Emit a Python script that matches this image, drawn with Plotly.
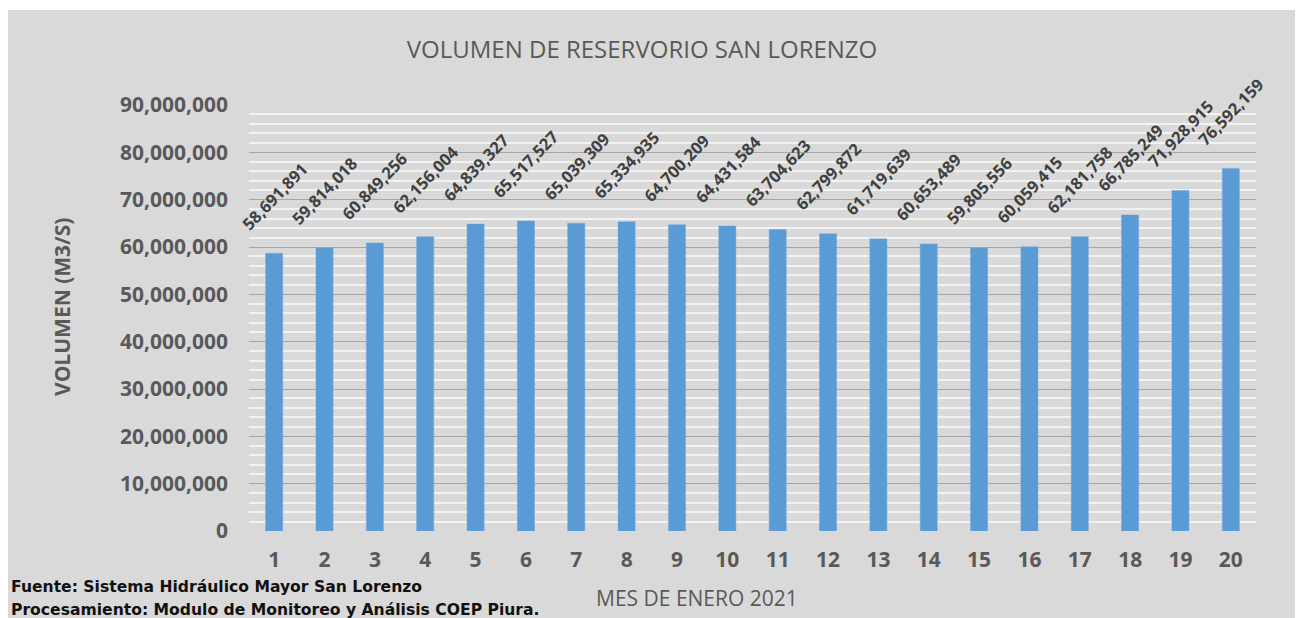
import plotly.graph_objects as go

# --------------------------------------------------
# Daten
# --------------------------------------------------
dias = [str(d) for d in range(1, 21)]
volumen = [
    58691891, 59814018, 60849256, 62156004, 64839327,
    65517527, 65039309, 65334935, 64700209, 64431584,
    63704623, 62799872, 61719639, 60653489, 59805556,
    60059415, 62181758, 66785249, 71928915, 76592159,
]
titulo = "VOLUMEN DE RESERVORIO SAN LORENZO"
titulo_y = "VOLUMEN (M3/S)"
titulo_x = "MES DE ENERO 2021"
fuente = "Fuente: Sistema Hidráulico Mayor San Lorenzo"
procesamiento = "Procesamiento: Modulo de Monitoreo y Análisis COEP Piura."

# --------------------------------------------------
# Geometrie (Pixel der Seite; Body hat 8px Rand)
# --------------------------------------------------
OFF = 8
W, H = 1303, 618 - OFF
X0, X1, Y0, Y1 = 249, 1256, 105, 531          # Plotbereich auf der Seite
L, R, T, B = X0 - OFF, W + OFF - X1, Y0 - OFF, 618 - Y1
PW, PH = X1 - X0, Y1 - Y0


def px(x):
    return (x - X0) / PW


def py(y):
    return (Y1 - y) / PH


GRIS = "#595959"
FONT = "Open Sans"

fig = go.Figure()

fig.add_trace(go.Bar(
    x=dias,
    y=volumen,
    marker=dict(color="#5b9bd5", line=dict(color="#6fa8dc", width=0.5)),
    hoverinfo="x+y",
))

# Datenbeschriftungen, schraeg ueber den Balken
annotations = []
for i, v in enumerate(volumen):
    annotations.append(dict(
        x=i, y=v, xref="x", yref="y",
        text=f"{v:,}",
        showarrow=False,
        textangle=-46,
        xanchor="center", yanchor="middle",
        yshift=57,
        font=dict(family=FONT, size=16.5, color="#404040", weight="bold"),
    ))

annotations += [
    dict(x=px(62), y=py(307), xref="paper", yref="paper", text=titulo_y,
         showarrow=False, textangle=-90, xanchor="center", yanchor="middle",
         font=dict(family=FONT, size=21, color=GRIS, weight="bold")),
    dict(x=px(697), y=py(598), xref="paper", yref="paper", text=titulo_x,
         showarrow=False, xanchor="center", yanchor="middle",
         font=dict(family=FONT, size=21, color=GRIS)),
    dict(x=px(9), y=py(587), xref="paper", yref="paper", text=fuente,
         showarrow=False, xanchor="left", yanchor="middle",
         font=dict(family="DejaVu Sans", size=15.6, color="#111111", weight="bold")),
    dict(x=px(9), y=py(610), xref="paper", yref="paper", text=procesamiento,
         showarrow=False, xanchor="left", yanchor="middle",
         font=dict(family="DejaVu Sans", size=15.6, color="#111111", weight="bold")),
]

shapes = [
    # schmaler weisser Streifen oben
    dict(type="rect", xref="paper", yref="paper", layer="below",
         x0=px(0), x1=px(1320), y0=py(0), y1=py(10),
         fillcolor="white", line=dict(width=0)),
]

fig.update_layout(
    width=W, height=H,
    margin=dict(l=L, r=R, t=T, b=B, pad=0),
    paper_bgcolor="#d9d9d9",
    plot_bgcolor="#d9d9d9",
    bargap=0.66,
    showlegend=False,
    title=dict(text=titulo, x=(642 - OFF) / W, xanchor="center", xref="container",
               y=1 - (50 - OFF) / H, yanchor="middle", yref="container",
               font=dict(family=FONT, size=24, color=GRIS)),
    annotations=annotations,
    shapes=shapes,
)

fig.update_yaxes(
    range=[0, 90e6], dtick=10e6, tickformat=",",
    showgrid=True, gridcolor="#a6a6a6", gridwidth=1,
    minor=dict(dtick=2e6, showgrid=True, gridcolor="#f2f2f2", gridwidth=2),
    zeroline=False, showline=False, ticks="",
    ticklabelstandoff=20,
    tickfont=dict(family=FONT, size=21, color=GRIS, weight="bold"),
)
fig.update_xaxes(
    type="category", range=[-0.5, len(dias) - 0.5], autorange=False,
    showgrid=False, showline=False, ticks="",
    ticklabelstandoff=14,
    tickfont=dict(family=FONT, size=21, color=GRIS, weight="bold"),
)

fig.write_html("out.html")
